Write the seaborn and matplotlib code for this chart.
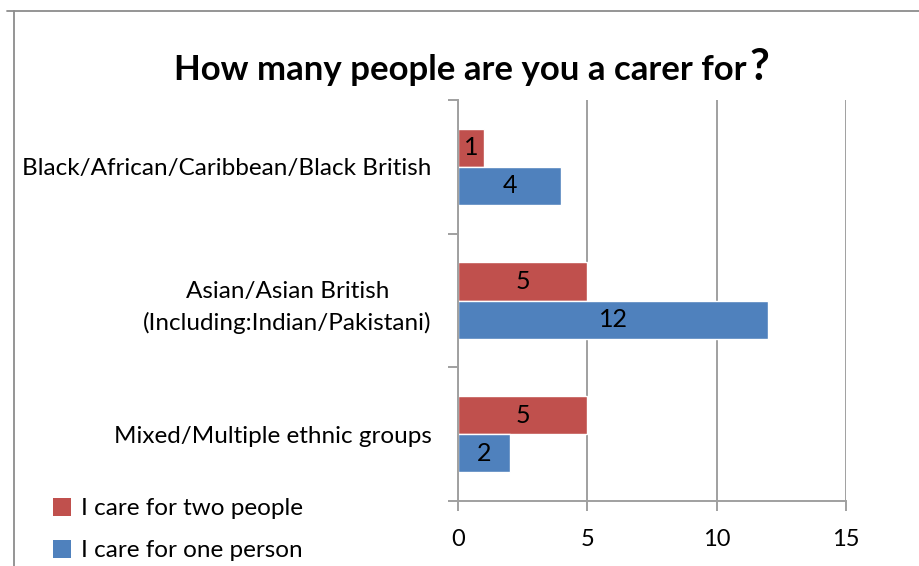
import matplotlib
matplotlib.use("Agg")
import matplotlib.pyplot as plt
from matplotlib.lines import Line2D
from matplotlib.patches import Patch
import seaborn as sns
import pandas as pd

categories = [
    "Black/African/Caribbean/Black British",
    "Asian/Asian British\n(Including:Indian/Pakistani)",
    "Mixed/Multiple ethnic groups",
]
two_people = [1, 5, 5]
one_person = [4, 12, 2]
series_names = ["I care for two people", "I care for one person"]
series_colors = ["#C0504D", "#4F81BD"]
x_ticks = [0, 5, 10, 15]

rows = []
for cat, a, b in zip(categories, two_people, one_person):
    rows.append({"group": cat, "series": series_names[0], "count": a})
    rows.append({"group": cat, "series": series_names[1], "count": b})
df = pd.DataFrame(rows)

sns.set_theme(style="white")
plt.rcParams["font.family"] = ["Lato", "DejaVu Sans"]
plt.rcParams["text.color"] = "black"
plt.rcParams["xtick.color"] = "black"
plt.rcParams["ytick.color"] = "black"

W, H = 919, 566
fig = plt.figure(figsize=(W / 100, H / 100), dpi=100)
ax = fig.add_axes([458 / W, 1 - 501 / H, (846 - 458) / W, (501 - 100) / H])

sns.barplot(
    data=df, y="group", x="count", hue="series", order=categories,
    hue_order=series_names, palette=series_colors, orient="h",
    width=0.57, gap=0, ax=ax, legend=False, saturation=1,
)

for cont in ax.containers:
    ax.bar_label(cont, label_type="center", fontsize=18, color="black")

grid_c = "#A0A0A0"
ax.set_xlim(0, 15)
ax.set_ylim(2.5, -0.5)
ax.set_xticks(x_ticks)
ax.set_xticklabels([str(t) for t in x_ticks], fontsize=17)
ax.xaxis.grid(True, color=grid_c, linewidth=1.4)
ax.set_axisbelow(True)
ax.set_xlabel("")
ax.set_ylabel("")

ax.set_yticks(range(len(categories)))
ax.set_yticklabels(categories, fontsize=17.5, multialignment="center",
                   linespacing=1.55)
ax.set_yticks([-0.5, 0.5, 1.5, 2.5], minor=True)
ax.tick_params(axis="y", which="major", length=0, pad=19)
ax.tick_params(axis="y", which="minor", length=7, width=1.4, color=grid_c, left=True)
ax.tick_params(axis="x", which="major", length=7, width=1.4, color=grid_c,
               labelcolor="black", bottom=True, pad=13)
ax.tick_params(axis="y", labelcolor="black")

for side in ["top", "right"]:
    ax.spines[side].set_visible(False)
for side in ["left", "bottom"]:
    ax.spines[side].set_color(grid_c)
    ax.spines[side].set_linewidth(1.4)

# title with an enlarged question mark
fig.text(747 / W, 1 - 80 / H, "How many people are you a carer for",
         ha="right", va="baseline", fontsize=25, fontweight="bold")
fig.text(749 / W, 1 - 80 / H, "?", ha="left", va="baseline",
         fontsize=31, fontweight="bold")

# legend
handles = [Patch(facecolor=c, edgecolor="none") for c in series_colors]
fig.legend(handles, series_names, loc="lower left",
           bbox_to_anchor=(43 / W, 1 - 571 / H), frameon=False,
           fontsize=17.5, handlelength=0.75, handleheight=0.75,
           handletextpad=0.4, labelspacing=0.85, borderaxespad=0)

# outer chart frame
fig.add_artist(Line2D([7 / W, 1], [1 - 11 / H, 1 - 11 / H], color="#8C8C8C",
                      linewidth=1.3, transform=fig.transFigure))
fig.add_artist(Line2D([14 / W, 14 / W], [0, 1 - 11 / H], color="#8C8C8C",
                      linewidth=1.3, transform=fig.transFigure))

fig.savefig("out.png", dpi=100)
